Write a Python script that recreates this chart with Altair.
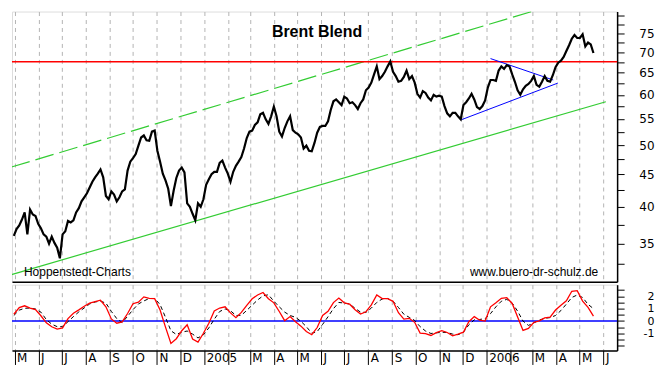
import altair as alt
import pandas as pd

# ---------------- data ----------------
# Brent closes, two readings per week (every 3.5 days) starting 2004-04-30
price_start = "2004-04-30"
price = [36.0, 36.9, 37.4, 38.2, 39.2, 36.2, 39.6, 38.9, 38.7, 37.6,
         37.0, 36.2, 35.9, 35.0, 35.9, 35.1, 34.5, 33.2, 36.2, 36.6,
         38.0, 37.8, 38.1, 39.2, 39.8, 40.8, 41.4, 42.0, 42.9, 43.8,
         44.5, 45.1, 45.8, 44.5, 41.6, 41.1, 42.3, 41.8, 40.8, 41.4,
         42.3, 42.6, 45.6, 47.1, 47.7, 48.4, 49.9, 51.4, 51.8, 50.9,
         50.8, 52.5, 52.7, 49.0, 47.1, 45.1, 44.0, 42.7, 40.1, 42.4,
         44.4, 45.6, 46.1, 45.3, 40.5, 40.0, 39.0, 38.1, 40.5, 40.0,
         41.1, 43.3, 44.2, 45.0, 45.4, 45.4, 46.9, 47.3, 46.1, 45.1,
         43.8, 45.4, 46.4, 47.1, 47.9, 49.4, 51.3, 52.5, 52.7, 53.8,
         54.3, 55.9, 56.2, 54.9, 54.0, 55.5, 57.5, 55.5, 52.5, 51.6,
         53.2, 54.5, 55.5, 52.8, 52.3, 52.0, 51.4, 49.4, 49.9, 49.0,
         48.9, 50.4, 52.3, 53.4, 53.6, 53.6, 54.5, 56.8, 58.6, 59.0,
         58.4, 57.8, 59.6, 59.2, 58.2, 58.4, 57.8, 57.0, 58.2, 59.0,
         61.0, 61.6, 62.7, 64.6, 66.5, 63.5, 64.2, 65.2, 66.5, 67.7,
         65.2, 64.2, 62.9, 63.1, 64.0, 65.5, 63.5, 64.2, 62.7, 60.2,
         59.4, 60.8, 60.4, 59.4, 58.8, 60.0, 59.6, 59.8, 59.6, 57.6,
         56.1, 55.5, 56.2, 56.2, 55.5, 54.9, 57.8, 58.4, 59.2, 60.2,
         59.0, 57.4, 57.0, 57.6, 58.8, 61.6, 63.3, 63.3, 63.1, 65.5,
         66.5, 65.9, 66.8, 66.5, 64.6, 62.9, 61.0, 60.0, 61.2, 62.0,
         62.4, 63.1, 64.2, 62.2, 61.8, 62.9, 64.2, 63.1, 62.9, 64.4,
         66.3, 67.4, 67.9, 68.8, 70.3, 71.8, 73.5, 74.5, 73.7, 73.7,
         74.7, 71.5, 72.5, 72.0, 69.8]

# oscillator (red) and its signal (black dashed), weekly from 2004-04-30
osc_start = "2004-04-30"
osc = [0.55, 1.08, 1.23, 1.04, 0.92, 0.43, -0.14, -0.46, -0.65, -0.55,
       0.20, 0.63, 0.90, 1.19, 1.44, 1.57, 1.68, 1.15, 0.17, -0.17,
       -0.07, 0.61, 1.40, 1.52, 1.95, 1.82, 1.80, 0.89, -0.49, -1.80,
       -1.42, -0.78, -0.30, -1.45, -1.70, -0.98, -0.17, 0.82, 1.05, 1.15,
       0.66, 0.27, 0.70, 1.27, 1.80, 2.10, 2.30, 1.80, 1.47, 0.77,
       0.03, 0.36, -0.06, -0.41, -0.84, -1.10, -0.52, 0.45, 0.78, 1.49,
       1.85, 1.47, 1.36, 0.92, 0.56, 0.75, 1.30, 2.10, 1.81, 1.80,
       1.59, 0.67, 0.16, 0.22, -0.10, -0.97, -1.01, -1.16, -0.93, -0.78,
       -0.92, -1.19, -1.05, -0.89, -0.05, 0.36, 0.07, 0.00, 1.15, 1.47,
       1.83, 1.89, 1.42, 0.32, -0.75, -0.59, -0.10, 0.02, 0.26, 0.32,
       0.89, 1.27, 1.63, 2.40, 2.45, 1.61, 1.11, 0.40]
signal = [0.45, 0.88, 1.03, 1.05, 0.97, 0.72, 0.12, -0.25, -0.45, -0.45,
          -0.05, 0.36, 0.74, 1.06, 1.38, 1.54, 1.60, 1.45, 0.78, 0.20,
          -0.12, 0.38, 0.92, 1.38, 1.62, 1.82, 1.82, 1.33, 0.30, -0.78,
          -1.08, -0.90, -0.80, -1.05, -1.36, -1.10, -0.55, 0.15, 0.77, 0.98,
          0.83, 0.45, 0.47, 0.86, 1.28, 1.70, 2.03, 2.12, 1.60, 1.15,
          0.72, 0.45, 0.30, -0.02, -0.45, -0.98, -0.85, -0.27, 0.35, 1.00,
          1.50, 1.45, 1.37, 1.03, 0.72, 0.70, 1.05, 1.50, 1.78, 1.82,
          1.60, 1.10, 0.55, 0.30, 0.05, -0.45, -0.80, -1.00, -0.95, -0.90,
          -0.92, -1.05, -1.10, -0.90, -0.30, 0.10, 0.13, 0.20, 0.60, 1.15,
          1.60, 1.75, 1.45, 0.80, 0.00, -0.35, -0.15, 0.08, 0.22, 0.28,
          0.45, 0.85, 1.37, 1.90, 2.10, 1.90, 1.35, 1.00]

resistance = 67.6
upper_dates = ["2004-04-27", "2006-06-18"]
upper_vals = [46.2, 88.9]
lower_dates = ["2004-04-27", "2006-06-04"]
lower_vals = [31.3, 58.5]
tri_dates = ["2006-01-06", "2006-03-28", "2005-11-29", "2006-04-03"]
tri_vals = [68.4, 63.3, 54.8, 62.6]
tri_seg = ["top", "top", "bottom", "bottom"]

month_starts = pd.date_range("2004-05-01", "2006-06-01", freq="MS")
price_ticks = [32.5, 35, 37.5, 40, 42.5, 45, 47.5, 50, 52.5, 55, 57.5,
               60, 62.5, 65, 67.5, 70, 72.5, 75, 77.5, 80]
osc_ticks = [-2, -1.5, -1, -0.5, 0, 0.5, 1, 1.5, 2, 2.5]

title_text = "Brent Blend"
left_note = "Hoppenstedt-Charts"
right_note = "www.buero-dr-schulz.de"

# ---------------- tables ----------------
p_dates = pd.date_range(price_start, periods=len(price), freq="84h").strftime("%Y-%m-%dT%H:%M:%SZ")
df_p = pd.DataFrame({"date": p_dates, "price": price})
o_dates = pd.date_range(osc_start, periods=len(osc), freq="7D").strftime("%Y-%m-%dT%H:%M:%SZ")
df_o = pd.DataFrame({"date": o_dates, "osc": osc, "signal": signal})
df_up = pd.DataFrame({"date": upper_dates, "price": upper_vals})
df_lo = pd.DataFrame({"date": lower_dates, "price": lower_vals})
df_tri = pd.DataFrame({"date": tri_dates, "price": tri_vals, "seg": tri_seg})
df_res = pd.DataFrame({"price": [resistance]})
df_zero = pd.DataFrame({"osc": [0]})

W, H1, H2 = 607, 271, 66
GRID = "#b4b4b4"
FONT = "Liberation Sans"
AXFONT = "DejaVu Sans"

xscale = alt.Scale(
    type="utc",
    domain=[alt.DateTime(year=2004, month=4, date=27, hours=15, utc=True),
            alt.DateTime(year=2006, month=6, date=18, hours=14, utc=True)],
)
month_values = [alt.DateTime(year=int(d.year), month=int(d.month), date=1, utc=True)
                for d in month_starts]

x_main = alt.X("date:T", scale=xscale, title=None,
               axis=alt.Axis(labels=False, ticks=False, domain=True, domainColor="black",
                             domainWidth=1.5, grid=True, gridColor=GRID, gridDash=[4, 4],
                             values=month_values))

label_expr = ("utcmonth(datum.value) == 0 ? utcFormat(datum.value, '%Y') : "
              "(utcmonth(datum.value) == 1 ? '' : substring(utcFormat(datum.value, '%b'), 0, 1))")
x_low = alt.X("date:T", scale=xscale, title=None,
              axis=alt.Axis(grid=True, gridColor=GRID, gridDash=[4, 4], values=month_values,
                            ticks=True, tickSize=14, tickColor="black", tickWidth=1,
                            domainColor="black", domainWidth=1.5,
                            labelAlign="left", labelBaseline="top", labelPadding=-12,
                            labelOffset=2, labelFlush=False, labelOverlap=False,
                            labelFont=AXFONT, labelFontSize=12, labelColor="black",
                            labelExpr=label_expr))

y_axis_common = dict(orient="right", grid=False, domainColor="black", domainWidth=1.5,
                     tickColor="black", tickSize=7, tickWidth=1, labelAlign="right",
                     labelBaseline="middle", labelPadding=30, labelFont=AXFONT,
                     labelColor="black", labelOverlap=False,
                     labelFlush=False, title=None)

y_main = alt.Y("price:Q", title=None,
               scale=alt.Scale(type="log", domain=[30.5, 81.1], nice=False, zero=False),
               axis=alt.Axis(values=price_ticks, labelFontSize=12,
                             labelExpr="(datum.value % 5 == 0 && datum.value <= 75) ? '' + datum.value : ''",
                             **y_axis_common))

osc_scale = alt.Scale(domain=[-2.37, 2.93], nice=False, zero=False)
osc_axis = alt.Axis(values=osc_ticks, labelFontSize=11,
                    labelExpr="indexof([-1, 0, 1, 2], datum.value) >= 0 ? '' + datum.value : ''",
                    **y_axis_common)

# ---------------- main panel ----------------
line_price = alt.Chart(df_p).mark_line(color="black", strokeWidth=2.2).encode(x=x_main, y=y_main)
rule_res = alt.Chart(df_res).mark_rule(color="#ff0000", strokeWidth=1.5).encode(y=y_main)
chan_up = alt.Chart(df_up).mark_line(color="#33cc33", strokeWidth=1.2, strokeDash=[19, 6],
                                     clip=True).encode(x=x_main, y=y_main)
chan_lo = alt.Chart(df_lo).mark_line(color="#33cc33", strokeWidth=1.2, clip=True).encode(x=x_main, y=y_main)
tri = alt.Chart(df_tri).mark_line(color="#0000ff", strokeWidth=1).encode(x=x_main, y=y_main, detail="seg:N")

txt_title = alt.Chart(pd.DataFrame({"t": [title_text]})).mark_text(
    font=FONT, fontSize=16, fontWeight="bold", color="black", align="center", baseline="middle"
).encode(text="t:N", x=alt.value(306), y=alt.value(21))
txt_left = alt.Chart(pd.DataFrame({"t": [left_note]})).mark_text(
    font=FONT, fontSize=12, color="black", align="left", baseline="middle"
).encode(text="t:N", x=alt.value(12), y=alt.value(261))
txt_right = alt.Chart(pd.DataFrame({"t": [right_note]})).mark_text(
    font=FONT, fontSize=12, color="black", align="right", baseline="middle"
).encode(text="t:N", x=alt.value(588), y=alt.value(261))

main = alt.layer(chan_up, chan_lo, rule_res, tri, line_price, txt_title, txt_left, txt_right
                 ).properties(width=W, height=H1)

# ---------------- oscillator panel ----------------
zero_rule = alt.Chart(df_zero).mark_rule(color="#0000ff", strokeWidth=1.5).encode(
    y=alt.Y("osc:Q", scale=osc_scale, axis=osc_axis))
sig_line = alt.Chart(df_o).mark_line(color="black", strokeWidth=1, strokeDash=[4, 3]).encode(
    x=x_low, y=alt.Y("signal:Q", scale=osc_scale, axis=osc_axis))
osc_line = alt.Chart(df_o).mark_line(color="#ff0000", strokeWidth=1.3).encode(
    x=x_low, y=alt.Y("osc:Q", scale=osc_scale, axis=osc_axis))

lower = alt.layer(zero_rule, sig_line, osc_line).properties(width=W, height=H2)

chart = alt.vconcat(main, lower, spacing=0).properties(padding=0).configure_view(
    stroke=None).configure(background="white")

chart.save("out.html", embed_options={"renderer": "svg", "actions": False})
